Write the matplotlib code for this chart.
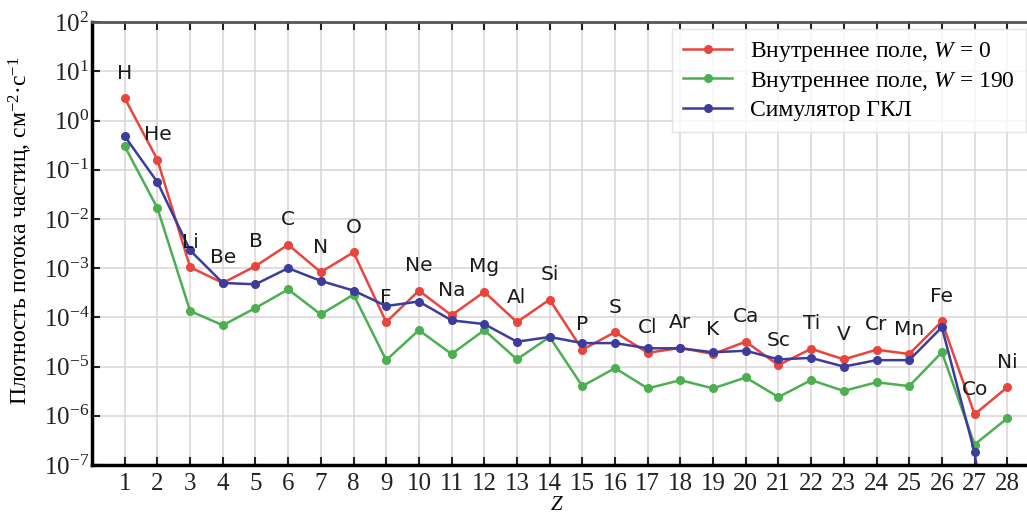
import numpy as np
import matplotlib
matplotlib.use("Agg")
import matplotlib.pyplot as plt

plt.rcParams['font.family'] = ['Liberation Serif', 'DejaVu Serif']
plt.rcParams['mathtext.fontset'] = 'custom'
plt.rcParams['mathtext.rm'] = 'Liberation Serif'
plt.rcParams['mathtext.it'] = 'Liberation Serif:italic'
plt.rcParams['mathtext.bf'] = 'Liberation Serif:bold'

# --- data: particle flux by nuclear charge Z ---
Z = np.arange(1, 29)
elements = ['H', 'He', 'Li', 'Be', 'B', 'C', 'N', 'O', 'F', 'Ne', 'Na', 'Mg',
            'Al', 'Si', 'P', 'S', 'Cl', 'Ar', 'K', 'Ca', 'Sc', 'Ti', 'V', 'Cr',
            'Mn', 'Fe', 'Co', 'Ni']

flux_w0 = [2.85, 0.16, 1.05e-3, 5.0e-4, 1.1e-3, 3.0e-3, 8.3e-4, 2.1e-3,
           8.0e-5, 3.5e-4, 1.1e-4, 3.3e-4, 8.0e-5, 2.3e-4, 2.2e-5, 5.0e-5,
           1.9e-5, 2.4e-5, 1.8e-5, 3.2e-5, 1.07e-5, 2.3e-5, 1.4e-5, 2.2e-5,
           1.8e-5, 8.3e-5, 1.07e-6, 3.8e-6]

flux_w190 = [0.30, 1.66e-2, 1.35e-4, 6.9e-5, 1.55e-4, 3.7e-4, 1.15e-4, 2.9e-4,
             1.35e-5, 5.5e-5, 1.8e-5, 5.5e-5, 1.4e-5, 4.0e-5, 4.0e-6, 9.3e-6,
             3.6e-6, 5.3e-6, 3.6e-6, 6.0e-6, 2.4e-6, 5.3e-6, 3.2e-6, 4.8e-6,
             4.0e-6, 1.95e-5, 2.6e-7, 8.9e-7]

flux_gcr = [0.48, 5.6e-2, 2.3e-3, 5.0e-4, 4.7e-4, 1.0e-3, 5.5e-4, 3.5e-4,
            1.7e-4, 2.1e-4, 8.7e-5, 7.3e-5, 3.2e-5, 4.0e-5, 3.0e-5, 3.0e-5,
            2.35e-5, 2.35e-5, 1.95e-5, 2.1e-5, 1.4e-5, 1.5e-5, 1.0e-5, 1.35e-5,
            1.35e-5, 6.3e-5, 1.8e-7, 1.0e-11]

RED = '#e8453c'
GREEN = '#4caf50'
BLUE = '#3c3c9c'

fig = plt.figure(figsize=(10.27, 5.15), dpi=100)
ax = fig.add_axes([0.0896, 0.0971, 0.923, 0.860])

kw = dict(lw=1.8, marker='o', ms=5.5)
ax.plot(Z, flux_w0, color=RED, label='Внутреннее поле, $W$ = 0', **kw)
ax.plot(Z, flux_w190, color=GREEN, label='Внутреннее поле, $W$ = 190', **kw)
ax.plot(Z, flux_gcr, color=BLUE, label='Симулятор ГКЛ', **kw)

# element symbols above the W = 0 curve
for z, name, f in zip(Z, elements, flux_w0):
    ax.annotate(name, (z, f), xytext=(0, 18), textcoords='offset points',
                ha='center', va='center', fontsize=14.5, color='#1a1a1a',
                family='DejaVu Sans')

ax.set_yscale('log')
ax.set_ylim(1e-7, 1e2)
ax.set_xlim(0, 29)
ax.set_xticks(Z)
ax.set_yticks([10.0 ** k for k in range(-7, 3)])
ax.yaxis.set_minor_locator(matplotlib.ticker.NullLocator())

ax.grid(True, color='#ddd3d4', lw=1.1)
ax.set_axisbelow(True)

ax.tick_params(axis='x', direction='in', length=6, width=1.5, top=True,
               labelsize=18, pad=6, colors='#222222')
ax.tick_params(axis='y', direction='in', length=6, width=1.5,
               labelsize=18, pad=2, colors='#222222')

ax.spines['left'].set_linewidth(2.5)
ax.spines['bottom'].set_linewidth(2.5)
ax.spines['top'].set_linewidth(2.0)
ax.spines['top'].set_color('#555555')

ax.set_ylabel('Плотность потока частиц, см$^{-2}$·с$^{-1}$', fontsize=17)
ax.yaxis.set_label_coords(-0.06, 0.53)
ax.set_xlabel('$Z$', fontsize=15)
ax.xaxis.set_label_coords(0.4905, -0.07)

leg = ax.legend(loc='upper left', bbox_to_anchor=(0.612, 0.984), fontsize=17,
                frameon=True, fancybox=False, edgecolor='#dddddd',
                handlelength=2.1, handletextpad=0.75, labelspacing=0.25,
                borderpad=0.45, borderaxespad=0)
leg.get_frame().set_linewidth(1.0)

fig.savefig('out.png', dpi=100)
